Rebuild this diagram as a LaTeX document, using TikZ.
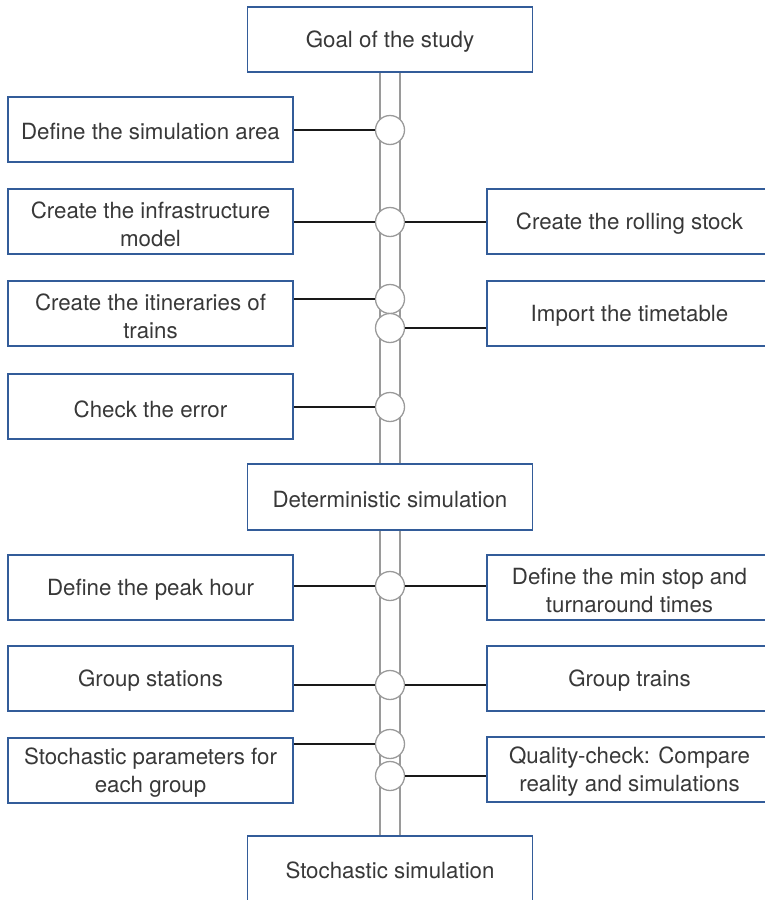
\documentclass[tikz,border=0pt]{standalone}
\usepackage{fontspec}
\setmainfont{TeX Gyre Heros}
\definecolor{boxblue}{HTML}{335C99}
\definecolor{railgray}{HTML}{9A9A9A}
\definecolor{txtgray}{HTML}{383838}
\begin{document}
\begin{tikzpicture}[x=1pt,y=-1pt,
  box/.style={draw=boxblue,line width=1.4pt,fill=white,rectangle,minimum width=285pt,minimum height=65pt,inner sep=0pt},
  txt/.style={align=center,inner sep=0pt,text=txtgray,font=\fontsize{22.3}{28}\selectfont,yshift=-2.5pt},
  hub/.style={draw=railgray,line width=1.3pt,fill=white,circle,minimum size=29pt,inner sep=0pt},
  rail/.style={draw=railgray,line width=1.3pt},
  link/.style={draw=black!90,line width=2.3pt}]
\useasboundingbox (0,0) rectangle (764,900);
% rails
\draw[rail] (380,72) -- (380,464) (400,72) -- (400,464);
\draw[rail] (380,530) -- (380,836) (400,530) -- (400,836);
% center boxes
\node[box,label={[txt]center:Goal of the study}] (goal) at (390,39.5) {};
\node[box,minimum height=66pt,label={[txt]center:Deterministic simulation}] (det) at (390,497) {};
\node[box,minimum height=70pt,label={[txt,yshift=3pt]center:Stochastic simulation}] (sto) at (390,871) {};
% left boxes
\node[box,label={[txt]center:Define the simulation area}] (l1) at (150.5,129.5) {};
\node[box,label={[txt]center:Create the infrastructure\\model}] (l2) at (150.5,221.5) {};
\node[box,label={[txt]center:Create the itineraries of\\trains}] (l3) at (150.5,313.5) {};
\node[box,label={[txt]center:Check the error}] (l4) at (150.5,406.5) {};
\node[box,label={[txt]center:Define the peak hour}] (l5) at (150.5,587.5) {};
\node[box,label={[txt]center:Group stations}] (l6) at (150.5,678.5) {};
\node[box,label={[txt]center:Stochastic parameters for\\each group}] (l7) at (150.5,770.5) {};
% right boxes
\node[box,label={[txt]center:Create the rolling stock}] (r2) at (629.5,221.5) {};
\node[box,label={[txt]center:Import the timetable}] (r3) at (629.5,313.5) {};
\node[box,label={[txt]center:Define the min stop and\\turnaround times}] (r5) at (629.5,587.5) {};
\node[box,label={[txt]center:Group trains}] (r6) at (629.5,678.5) {};
\node[box,label={[txt]center:Quality-check: Compare\\reality and simulations}] (r7) at (629.5,769.5) {};
% hubs
\node[hub] (c1) at (390,130) {};
\node[hub] (c2) at (390,222) {};
\node[hub] (c3a) at (390,299) {};
\node[hub] (c3b) at (390,328) {};
\node[hub] (c4) at (390,407) {};
\node[hub] (c5) at (390,586) {};
\node[hub] (c6) at (390,685) {};
\node[hub] (c7a) at (390,744) {};
\node[hub] (c7b) at (390,776) {};
% links
\draw[link] (c1.west) -- (c1.west -| l1.east);
\draw[link] (c2.west) -- (c2.west -| l2.east);
\draw[link] (c2.east) -- (c2.east -| r2.west);
\draw[link] (c3a.west) -- (c3a.west -| l3.east);
\draw[link] (c3b.east) -- (c3b.east -| r3.west);
\draw[link] (c4.west) -- (c4.west -| l4.east);
\draw[link] (c5.west) -- (c5.west -| l5.east);
\draw[link] (c5.east) -- (c5.east -| r5.west);
\draw[link] (c6.west) -- (c6.west -| l6.east);
\draw[link] (c6.east) -- (c6.east -| r6.west);
\draw[link] (c7a.west) -- (c7a.west -| l7.east);
\draw[link] (c7b.east) -- (c7b.east -| r7.west);
\end{tikzpicture}
\end{document}
